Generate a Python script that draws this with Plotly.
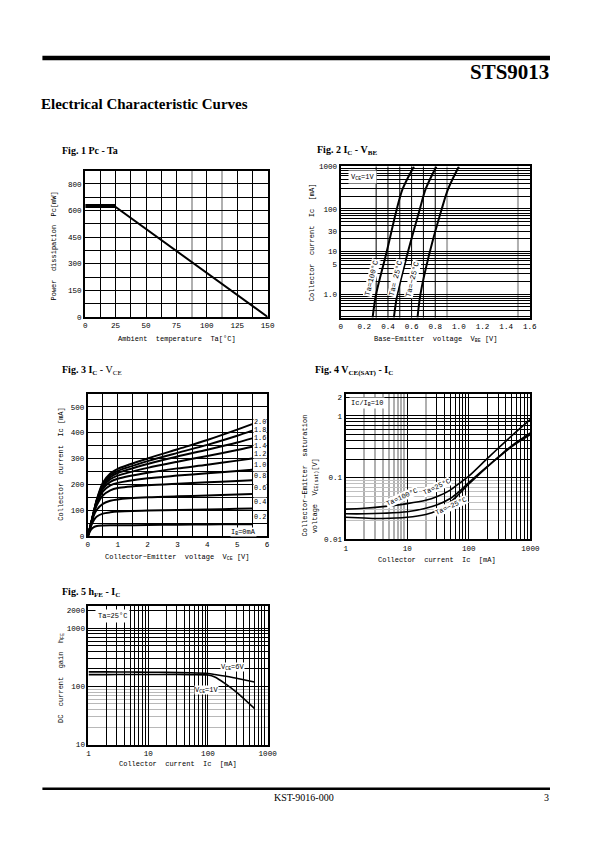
import math
import plotly.graph_objects as go

W, H = 595, 842

# ---------------- data ----------------
# Fig 1  Pc - Ta
TA = [0, 25, 150]
PC = [620, 620, 0]
TA_UPPER = [0, 25]
PC_UPPER = [632, 632]
F1_YTICKS = [0, 150, 300, 450, 600, 750]
F1_YTEXT = ["0", "150", "300", "450", "600", "800"]
F1_XTICKS = [0, 25, 50, 75, 100, 125, 150]

# Fig 2  Ic - Vbe (Vce = 1V)
IC2 = [0.28, 1, 10, 100, 300, 1000]
VBE_T100 = [0.27, 0.30, 0.39, 0.475, 0.525, 0.62]
VBE_T25 = [0.45, 0.48, 0.57, 0.67, 0.72, 0.81]
VBE_TM25 = [0.65, 0.675, 0.755, 0.855, 0.91, 1.0]
F2_YTICKS = [1, 5, 10, 30, 100, 1000]
F2_YTEXT = ["1.0", "5", "10", "30", "100", "1000"]
F2_XTICKS = [0, 0.2, 0.4, 0.6, 0.8, 1.0, 1.2, 1.4, 1.6]
F2_XTEXT = ["0", "0.2", "0.4", "0.6", "0.8", "1.0", "1.2", "1.4", "1.6"]

# Fig 3  Ic - Vce
VCE3 = [0, 0.1, 0.2, 0.3, 0.5, 0.75, 1, 2, 3, 4, 5, 5.5]
IC3_IB02 = [0, 24, 35, 39, 41, 42, 42, 43, 44, 45, 46, 46]
IC3_IB04 = [0, 38, 62, 76, 87, 92, 95, 99, 101, 103, 106, 107]
IC3_IB06 = [0, 42, 80, 102, 125, 137, 142, 150, 154, 157, 161, 163]
IC3_IB08 = [0, 44, 88, 120, 157, 177, 186, 197, 203, 208, 213, 216]
IC3_IB10 = [0, 45, 91, 128, 172, 196, 206, 224, 234, 243, 252, 257]
IC3_IB12 = [0, 45, 92, 133, 182, 210, 222, 245, 262, 276, 292, 300]
IC3_IB14 = [0, 46, 93, 136, 190, 220, 234, 264, 288, 310, 333, 346]
IC3_IB16 = [0, 46, 94, 138, 196, 228, 244, 279, 308, 334, 362, 378]
IC3_IB18 = [0, 47, 95, 140, 201, 235, 252, 290, 322, 353, 388, 408]
IC3_IB20 = [0, 47, 96, 142, 206, 242, 260, 300, 336, 372, 412, 433]
IB_LABELS = ["2.0", "1.8", "1.6", "1.4", "1.2", "1.0", "0.8", "0.6", "0.4", "0.2"]
IB_LABEL_Y = [440, 409, 378, 347, 316, 274, 234, 186, 132, 74]

# Fig 4  Vce(sat) - Ic
IC4 = [1, 2, 4, 10, 20, 30, 50, 70, 100, 200, 300, 500, 1000]
VSAT_T100 = [0.031, 0.032, 0.034, 0.038, 0.043, 0.049, 0.063, 0.081, 0.106, 0.205, 0.30, 0.48, 0.88]
VSAT_T25 = [0.026, 0.026, 0.0265, 0.028, 0.032, 0.036, 0.046, 0.060, 0.083, 0.152, 0.212, 0.32, 0.50]
VSAT_TM25 = [0.0228, 0.0222, 0.0218, 0.0228, 0.0254, 0.029, 0.040, 0.055, 0.079, 0.150, 0.215, 0.33, 0.53]

# Fig 5  hFE - Ic
IC5 = [1, 2, 5, 10, 20, 50, 100, 130, 200, 300, 600]
HFE_V6 = [178, 178, 177, 176, 175, 172, 167, 161, 150, 138, 119]
HFE_V1 = [160, 160, 161, 161, 161, 160, 157, 146, 110, 80, 42]

# ---------------- helpers ----------------
MONO = "Liberation Mono"
SERIF = "Liberation Serif"

# small correction for the way the page is photographed
SX, OX, SY = 0.9845, 1.4, 0.994


def PX(p):
    return (p - OX) / SX


def PY(p):
    return p / SY


def dom_x(a, b):
    return [PX(a) / W, PX(b) / W]


def dom_y(top, bottom):
    return [1 - PY(bottom) / H, 1 - PY(top) / H]


def axis(**kw):
    d = dict(showline=True, linecolor="black", linewidth=2, mirror=True, ticks="",
             showgrid=True, gridcolor="black", gridwidth=1, zeroline=False,
             tickfont=dict(family=MONO, size=7.6, color="black"), fixedrange=True,
             layer="below traces")
    d.update(kw)
    return d


def labels_only(vals, shown, fmt):
    return [fmt(v) if v in shown else "" for v in vals]


fig = go.Figure()


def line(x, y, ax, width=2, smooth=0.9):
    fig.add_trace(go.Scatter(x=x, y=y, mode="lines", xaxis="x" + ax, yaxis="y" + ax,
                             line=dict(color="black", width=width, shape="spline", smoothing=smooth),
                             showlegend=False, hoverinfo="skip"))


def straight(x, y, ax, width=2):
    fig.add_trace(go.Scatter(x=x, y=y, mode="lines", xaxis="x" + ax, yaxis="y" + ax,
                             line=dict(color="black", width=width),
                             showlegend=False, hoverinfo="skip"))


# Fig 1
straight(TA, PC, "")
straight(TA_UPPER, PC_UPPER, "")
# Fig 2
line(VBE_T100, IC2, "2")
line(VBE_T25, IC2, "2")
line(VBE_TM25, IC2, "2")
# Fig 3
for arr in [IC3_IB02, IC3_IB04, IC3_IB06, IC3_IB08, IC3_IB10,
            IC3_IB12, IC3_IB14, IC3_IB16, IC3_IB18, IC3_IB20]:
    line(VCE3, arr, "3", 2, 0.8)
# Fig 4
line(IC4, VSAT_T100, "4", 1.6)
line(IC4, VSAT_T25, "4", 1.6)
line(IC4, VSAT_TM25, "4", 1.6)
# Fig 5
line(IC5, HFE_V6, "5", 1.6)
line(IC5, HFE_V1, "5", 1.6)

# axes
f1x = [i * 12.5 for i in range(13)]
f1y = [i * 75 for i in range(12)]


def dec(a, b):
    return [m * 10 ** e for e in range(a, b) for m in range(1, 10)]


f4x = [1, 10] + [v for v in dec(1, 3) if v >= 30] + [1000]
f4y = [0.01] + [round(m * 0.1, 2) for m in range(1, 10)] + [1, 2]
f5x = dec(0, 3) + [1000]
f5y = [10, 100, 200, 300, 400, 500, 600, 700, 800, 900, 1000, 2000]

layout = dict(
    width=W, height=H, autosize=False,
    margin=dict(l=0, r=0, t=0, b=0),
    paper_bgcolor="white", plot_bgcolor="white",
    showlegend=False,
    xaxis=axis(domain=dom_x(85, 268.3), range=[0, 150], anchor="y",
               tickmode="array", tickvals=[v for v in f1x if v not in (87.5, 112.5)],
               ticktext=[("%g" % v) if v in F1_XTICKS else "" for v in f1x if v not in (87.5, 112.5)],
               minor=dict(tickmode="array", tickvals=[87.5, 112.5], showgrid=True,
                          gridcolor="#b0b0b0", gridwidth=1.5)),
    yaxis=axis(domain=dom_y(168.3, 315), range=[0, 825], anchor="x",
               tickmode="array", tickvals=f1y,
               ticktext=[F1_YTEXT[F1_YTICKS.index(v)] if v in F1_YTICKS else "" for v in f1y]),
    xaxis2=axis(domain=dom_x(341.7, 531.7), range=[0, 1.6], anchor="y2",
                tickmode="array", tickvals=F2_XTICKS, ticktext=F2_XTEXT, showgrid=False),
    yaxis2=axis(domain=dom_y(164, 315.7), type="log", range=[-0.553, 3.0], anchor="x2",
                tickmode="array", tickvals=F2_YTICKS, ticktext=F2_YTEXT,
                minor=dict(tickmode="array",
                           tickvals=[v for v in dec(-1, 3) if v not in F2_YTICKS and v >= 0.3],
                           showgrid=True, gridcolor="black", gridwidth=1)),
    xaxis3=axis(domain=dom_x(87.7, 267.7), range=[0, 6], anchor="y3",
                tickmode="array", tickvals=[i * 0.5 for i in range(13)],
                ticktext=[("%d" % (i // 2)) if i % 2 == 0 else "" for i in range(13)]),
    yaxis3=axis(domain=dom_y(392.3, 535), range=[0, 550], anchor="x3",
                tickmode="array", tickvals=[i * 50 for i in range(12)],
                ticktext=[("%d" % (i * 50)) if i % 2 == 0 else "" for i in range(12)]),
    xaxis4=axis(domain=dom_x(346.7, 532.3), type="log", range=[0, 3], anchor="y4",
                tickmode="array", tickvals=f4x,
                ticktext=labels_only(f4x, [1, 10, 100, 1000], lambda v: "%d" % v),
                minor=dict(tickmode="array", tickvals=[2, 3, 4, 5, 6, 7, 8, 9, 20],
                           showgrid=True, gridcolor="#b0b0b0", gridwidth=1.5)),
    yaxis4=axis(domain=dom_y(392.3, 538.3), type="log", range=[-2, 0.357], anchor="x4",
                tickmode="array", tickvals=f4y,
                ticktext=labels_only(f4y, [0.01, 0.1, 1, 2], lambda v: "%g" % v),
                minor=dict(tickmode="array",
                           tickvals=[0.02, 0.03, 0.04, 0.05, 0.06, 0.07, 0.08, 0.09],
                           showgrid=True, gridcolor="#c0c0c0", gridwidth=1)),
    xaxis5=axis(domain=dom_x(88.3, 268.3), type="log", range=[0, 3], anchor="y5",
                tickmode="array", tickvals=f5x,
                ticktext=labels_only(f5x, [1, 10, 100, 1000], lambda v: "%d" % v)),
    yaxis5=axis(domain=dom_y(605, 744.3), type="log", range=[1, 3.385], anchor="x5",
                tickmode="array", tickvals=f5y,
                ticktext=labels_only(f5y, [10, 100, 1000, 2000], lambda v: "%d" % v),
                minor=dict(tickmode="array", tickvals=[20, 30, 40, 50, 60, 70, 80, 90],
                           showgrid=True, gridcolor="#b8b8b8", gridwidth=1)),
)

shapes = []
# Fig 2 vertical grid lines
for v in [0.3, 0.4, 0.5, 0.6, 0.7, 0.8]:
    shapes.append(dict(type="line", xref="x2", yref="y2 domain", x0=v, x1=v, y0=0, y1=1,
                       line=dict(color="black", width=1), layer="below"))
for v in [0.9, 1.5]:
    shapes.append(dict(type="line", xref="x2", yref="y2 domain", x0=v, x1=v, y0=0, y1=1,
                       line=dict(color="#b0b0b0", width=2), layer="below"))
# page rules
shapes.append(dict(type="rect", xref="paper", yref="paper", x0=PX(42) / W, x1=PX(552) / W,
                   y0=1 - PY(57.5) / H, y1=1 - PY(53) / H, fillcolor="black", line=dict(width=0)))
shapes.append(dict(type="line", xref="paper", yref="paper", x0=PX(42) / W, x1=PX(552) / W,
                   y0=1 - PY(788.5) / H, y1=1 - PY(788.5) / H, line=dict(color="black", width=2.5)))
layout["shapes"] = shapes

ann = []


def text(x, y, s, size=7, family=MONO, xanchor="center", yanchor="middle", angle=0,
         bg=None, ref=("paper", "paper"), pad=0, logx=False, logy=False):
    if ref == ("paper", "paper"):
        x, y = PX(x) / W, 1 - PY(y) / H
    if logx:
        x = math.log10(x)
    if logy:
        y = math.log10(y)
    a = dict(x=x, y=y, text=s, showarrow=False, xanchor=xanchor, yanchor=yanchor,
             textangle=angle, font=dict(family=family, size=size, color="black"),
             xref=ref[0], yref=ref[1], borderpad=pad)
    if bg:
        a["bgcolor"] = bg
    ann.append(a)


# headings
text(552, 69, "<b>STS9013</b>", size=21, family=SERIF, xanchor="right")
text(40, 101, "<b>Electrical Characteristic Curves</b>", size=15, family=SERIF, xanchor="left")
text(61, 148, "<b>Fig. 1 Pc - Ta</b>", size=10, family=SERIF, xanchor="left")
text(317, 148, "<b>Fig. 2 I<sub>C</sub> - V<sub>BE</sub></b>", size=10, family=SERIF, xanchor="left")
text(61, 369, "<b>Fig. 3 I<sub>C</sub></b> - V<sub>CE</sub>", size=10, family=SERIF, xanchor="left")
text(315, 369, "<b>Fig. 4 V<sub>CE(SAT)</sub> - I<sub>C</sub></b>", size=10, family=SERIF, xanchor="left")
text(61, 592, "<b>Fig. 5 h<sub>FE</sub> - I<sub>C</sub></b>", size=10, family=SERIF, xanchor="left")
text(305, 797, "KST-9016-000", size=10, family=SERIF)
text(552, 797, "3", size=10, family=SERIF, xanchor="right")

# axis titles
text(177, 337, "Ambient  temperature  Ta[°C]")
text(54, 244, "Power  dissipation  Pc[mW]", angle=-90)
text(437, 337, "Base−Emitter  voltage  V<sub>BE</sub> [V]")
text(313, 240, "Collector  current  Ic  [mA]", angle=-90)
text(178, 556, "Collector−Emitter  voltage  V<sub>CE</sub> [V]")
text(61, 463, "Collector  current  Ic [mA]", angle=-90)
text(438, 559, "Collector  current  Ic  [mA]")
text(306, 474, "Collector−Emitter  saturation", angle=-90)
text(316, 495, "voltage  V<sub>CE(sat)</sub>[V]", angle=-90)
text(178, 764, "Collector  current  Ic  [mA]")
text(60, 677, "DC  current  gain  h<sub>FE</sub>", angle=-90)

# in-chart labels
text(0.06, 560, "V<sub>CE</sub>=1V", ref=("x2", "y2"), xanchor="left", bg="white", pad=2, logy=True)
text(0.265, 2.35, "Ta=100°C", size=7.5, angle=-76, ref=("x2", "y2"), bg="white", logy=True)
text(0.47, 2.35, "Ta= 25°C", size=7.5, angle=-76, ref=("x2", "y2"), bg="white", logy=True)
text(0.613, 2.2, "Ta=−25°C", size=7.5, angle=-76, ref=("x2", "y2"), bg="white", logy=True)

for lab, yv in zip(IB_LABELS, IB_LABEL_Y):
    text(5.76, yv, lab, size=6.8, ref=("x3", "y3"), bg="white")
text(5.2, 14, "I<sub>B</sub>=0mA", size=7, ref=("x3", "y3"), bg="white")

text(1.12, 1.6, "Ic/I<sub>B</sub>=10", ref=("x4", "y4"), xanchor="left", bg="white", pad=1,
     logx=True, logy=True)
text(8.3, 0.049, "Ta=100°C", size=7, angle=-25, ref=("x4", "y4"), bg="white", logx=True, logy=True)
text(30, 0.071, "Ta=25°C", size=7, angle=-25, ref=("x4", "y4"), bg="white", logx=True, logy=True)
text(52, 0.035, "Ta=−25°C", size=7, angle=-25, ref=("x4", "y4"), bg="white", logx=True, logy=True)

text(1.3, 1600, "Ta=25°C", ref=("x5", "y5"), xanchor="left", bg="white", pad=2, logx=True, logy=True)
text(261, 219, "V<sub>CE</sub>=6V", ref=("x5", "y5"), bg="white", logx=True, logy=True)
text(94, 87, "V<sub>CE</sub>=1V", ref=("x5", "y5"), bg="white", logx=True, logy=True)

layout["annotations"] = ann
fig.update_layout(**layout)

POST = (
    "var gd=document.getElementById('{plot_id}');"
    "gd.style.position='fixed';gd.style.left='0px';gd.style.top='0px';"
    "document.documentElement.style.margin='0px';"
    "document.body.style.margin='0px';"
    "document.documentElement.style.overflow='hidden';"
    "document.body.style.overflow='hidden';"
)
fig.write_html("out.html", config={"displayModeBar": False}, post_script=POST)
